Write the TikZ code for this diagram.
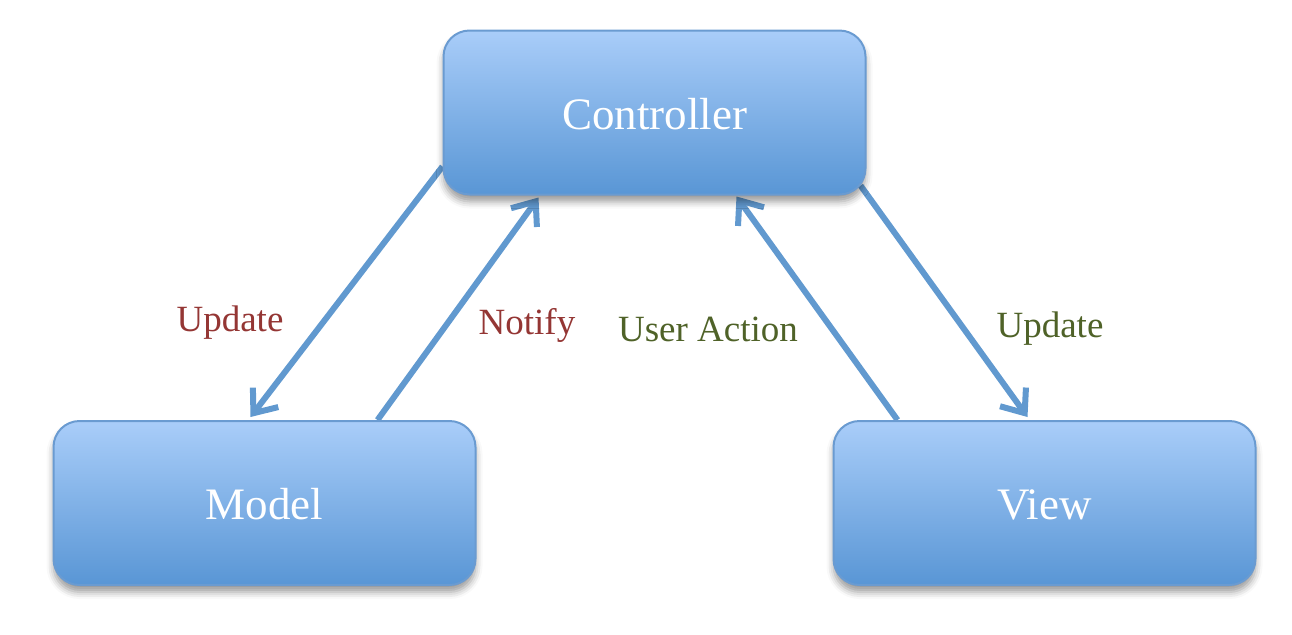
\documentclass[tikz,border=0pt]{standalone}
\usepackage{fontspec}
\setmainfont{Liberation Serif}
\usetikzlibrary{arrows.meta,shadows.blur,calc}
\pgfdeclarelayer{background}
\pgfsetlayers{background,main}
\definecolor{boxtop}{HTML}{A9CDF9}
\definecolor{boxbot}{HTML}{5996D5}
\definecolor{boxline}{HTML}{6A9BD1}
\definecolor{arrowblue}{HTML}{6199CF}
\definecolor{labred}{HTML}{943634}
\definecolor{labgreen}{HTML}{4F6228}
\tikzset{
  mvcbox/.style={rectangle, rounded corners=13pt, draw=boxline, line width=1pt,
    top color=boxtop, bottom color=boxbot, minimum width=211pt, minimum height=82pt,
    text=white, font=\fontsize{22.5}{26}\selectfont, text height=16.5pt, text depth=0pt,
    blur shadow={shadow xshift=0pt, shadow yshift=-3.5pt, shadow blur radius=3.5pt, shadow opacity=40}},
  flow/.style={draw=arrowblue, line width=3pt, -{Straight Barb[length=10pt,width=16pt,line width=3pt]}},
  redlab/.style={text=labred, font=\fontsize{18.5}{22}\selectfont},
  greenlab/.style={text=labgreen, font=\fontsize{18.5}{22}\selectfont}
}
\begin{document}
\begin{tikzpicture}[x=0.5pt,y=-0.5pt]
\useasboundingbox (0,0) rectangle (1292,634);
\node[mvcbox] (ctrl) at (654.5,112.5) {Controller};
\node[mvcbox] (model) at (264.5,503) {Model};
\node[mvcbox] (view) at (1044.5,503) {View};
\begin{pgfonlayer}{background}
\draw[flow] ([yshift=-27pt]ctrl.west) -- ([xshift=-7pt,yshift=1.5pt]model.north);
\draw[flow] ([xshift=56.5pt]model.north) -- ([xshift=-58pt,yshift=-1pt]ctrl.south);
\draw[flow] ([xshift=-73.5pt]view.north) -- ([xshift=41pt,yshift=-0.5pt]ctrl.south);
\draw[flow] ([xshift=-3pt,yshift=5pt]ctrl.south east) -- ([xshift=-8.5pt,yshift=1.5pt]view.north);
\end{pgfonlayer}
\node[redlab] (l1) at (230,323) {Update};
\node[redlab] (l2) at (527,325) {Notify};
\node[greenlab] (l3) at (708,329) {User Action};
\node[greenlab] (l4) at (1050,329) {Update};
\end{tikzpicture}
\end{document}
